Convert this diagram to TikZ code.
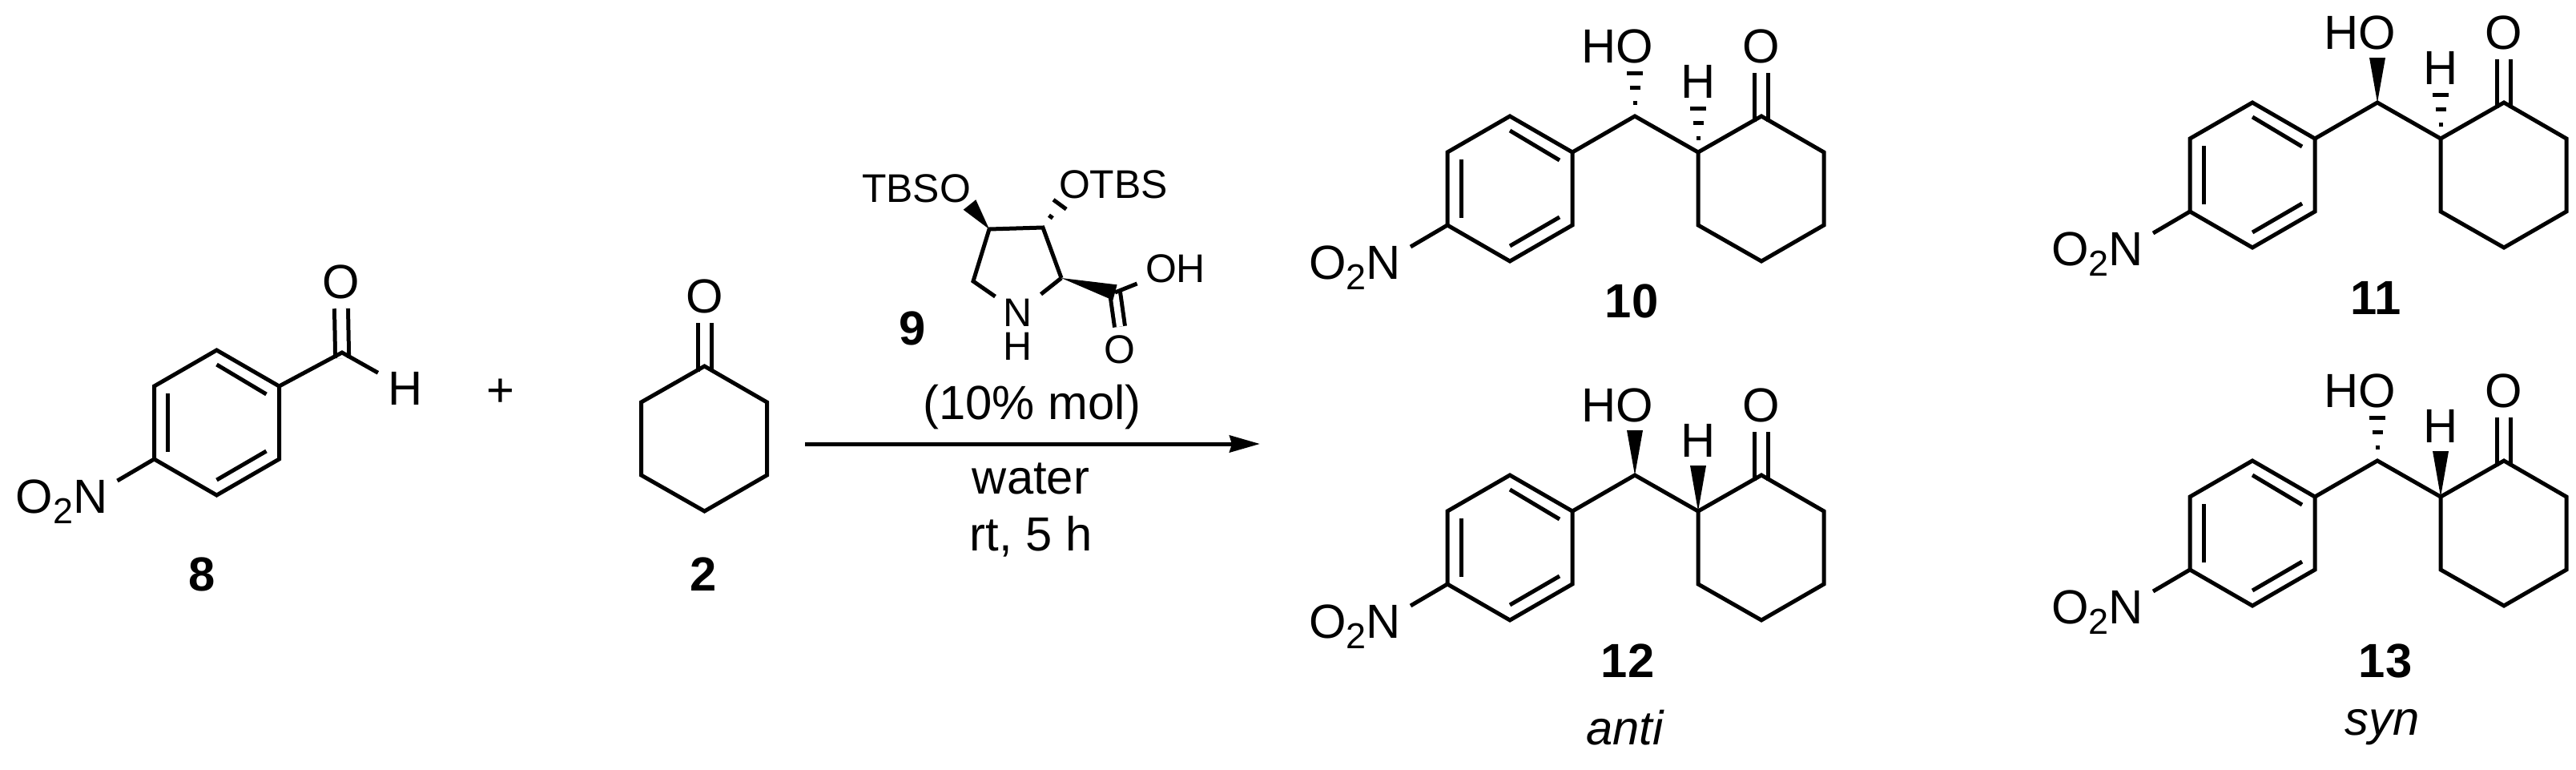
\documentclass[tikz,border=0pt]{standalone}
\usepackage{fontspec}
\setmainfont{Liberation Sans}
\usepackage{tikz}
\usetikzlibrary{calc,arrows.meta}
\pgfdeclarelayer{bg}
\pgfsetlayers{bg,main}
\tikzset{
    every path/.style={line width=.05cm},
    every node/.style={anchor=base, inner sep=.1cm, font=\fontsize{17}{17}\selectfont},
    catnode/.style={inner sep=.08cm, font=\fontsize{14.2}{14.2}\selectfont},
    dblbond/.style={double, double distance=.12cm, line width=.05cm, shorten <=-.07cm},
    wedgebond/.style={fill, to path={(\tikztostart) -- ($(\tikztotarget)!.1cm!90:(\tikztostart)$) -- ($(\tikztotarget)!.1cm!-90:(\tikztostart)$) -- cycle}},
    hashbond/.style={draw, to path={
        ($(\tikztostart)!.30!(\tikztotarget)!.025cm!90:(\tikztotarget)$) -- ($(\tikztostart)!.30!(\tikztotarget)!.025cm!-90:(\tikztotarget)$)
        ($(\tikztostart)!.64!(\tikztotarget)!.065cm!90:(\tikztotarget)$) -- ($(\tikztostart)!.64!(\tikztotarget)!.065cm!-90:(\tikztotarget)$)
        ($(\tikztostart)!.96!(\tikztotarget)!.1cm!90:(\tikztotarget)$) -- ($(\tikztostart)!.96!(\tikztotarget)!.1cm!-90:(\tikztotarget)$)}},
    shorthash/.style={draw, to path={
        ($(\tikztostart)!.45!(\tikztotarget)!.03cm!90:(\tikztotarget)$) -- ($(\tikztostart)!.45!(\tikztotarget)!.03cm!-90:(\tikztotarget)$)
        ($(\tikztostart)!.96!(\tikztotarget)!.1cm!90:(\tikztotarget)$) -- ($(\tikztostart)!.96!(\tikztotarget)!.1cm!-90:(\tikztotarget)$)}}
}
\newcommand{\nitro}{O\raisebox{-.13cm}{\fontsize{12.8}{12.8}\selectfont 2}N}
\newcommand{\arene}[2]{
    \begin{scope}[shift={(#2)}]
        \coordinate (#1r0) at (0.00cm, 0.00cm);
        \coordinate (#1r1) at (0.78cm, -0.45cm);
        \coordinate (#1r2) at (0.78cm, -1.36cm);
        \coordinate (#1r3) at (0.00cm, -1.81cm);
        \coordinate (#1r4) at (-0.78cm, -1.36cm);
        \coordinate (#1r5) at (-0.78cm, -0.45cm);
        \coordinate (#1i0) at (0.00cm, -0.18cm);
        \coordinate (#1i1) at (0.62cm, -0.55cm);
        \coordinate (#1i2) at (0.00cm, -1.62cm);
        \coordinate (#1i3) at (0.62cm, -1.26cm);
        \coordinate (#1i4) at (-0.61cm, -0.54cm);
        \coordinate (#1i5) at (-0.61cm, -1.27cm);
        \coordinate (#1e) at (-1.24cm, -1.63cm);
        \node (#1n) at (-1.935cm, -2.03cm) {\nitro};
        \draw (#1r0) -- (#1r1) -- (#1r2) -- (#1r3) -- (#1r4) -- (#1r5) -- cycle;
        \draw (#1i0) -- (#1i1);
        \draw (#1i2) -- (#1i3);
        \draw (#1i4) -- (#1i5);
        \draw (#1r4) -- (#1e);
    \end{scope}
}
\newcommand{\ketone}[2]{
    \begin{scope}[shift={(#2)}]
        \coordinate (#1k0) at (0.00cm, 0.00cm);
        \coordinate (#1k1) at (0.78cm, -0.45cm);
        \coordinate (#1k2) at (0.78cm, -1.36cm);
        \coordinate (#1k3) at (0.00cm, -1.81cm);
        \coordinate (#1k4) at (-0.79cm, -1.36cm);
        \coordinate (#1k5) at (-0.79cm, -0.45cm);
        \node (#1o) at (0.00cm, 0.67cm) {O};
        \draw (#1k0) -- (#1k1) -- (#1k2) -- (#1k3) -- (#1k4) -- (#1k5) -- cycle;
        \begin{pgfonlayer}{bg}
                \draw [dblbond] (#1k0) -- (#1o.south);
        \end{pgfonlayer}
    \end{scope}
}
\newcommand{\adduct}[4]{
    \begin{scope}[shift={(#2)}]
        \coordinate (#1c) at (0.00cm, 0.00cm);
        \arene{#1}{-1.56cm, 0cm}
        \ketone{#1}{1.58cm, 0cm}
        \coordinate (#1w0) at (0.00cm, 0.56cm);
        \coordinate (#1w1) at (0.79cm, 0.12cm);
        \node (#1oh) at (-0.215cm, 0.67cm) {HO};
        \node (#1h) at (0.79cm, 0.23cm) {H};
        \draw (#1r1) -- (#1c) -- (#1k5);
        \path [#3] (#1c) to (#1w0);
        \path [#4] (#1k5) to (#1w1);
    \end{scope}
}

\begin{document}
\begin{tikzpicture}
        \useasboundingbox (0,0) rectangle (32.16,9.6);
        \arene{a}{2.705cm, 5.23cm}
        \coordinate (ac) at (4.27cm, 5.20cm);
        \node (ao) at (4.26cm, 5.88cm) {O};
        \node (ah) at (5.06cm, 4.55cm) {H};
        \node (a8) at (2.52cm, 2.23cm) {\textbf{8}};
        \draw (ar1) -- (ac) -- (ah);
        \begin{pgfonlayer}{bg}
                \draw [dblbond] (ac) -- (ao.south);
        \end{pgfonlayer}
        \node [anchor=center] (plus) at (6.25cm, 4.70cm) {+};
        \ketone{b}{8.795cm, 5.03cm}
        \node (b2) at (8.78cm, 2.23cm) {\textbf{2}};

        \coordinate (c4) at (12.35cm, 6.74cm);
        \coordinate (c3) at (13.02cm, 6.76cm);
        \coordinate (c2) at (13.25cm, 6.13cm);
        \coordinate (c5) at (12.15cm, 6.09cm);
        \coordinate (c6) at (13.92cm, 5.95cm);
        \coordinate (w4) at (12.105cm, 7.045cm);
        \coordinate (w3) at (13.24cm, 7.06cm);
        \node [catnode] (tbso) at (11.44cm, 7.08cm) {TBSO};
        \node [catnode] (otbs) at (13.90cm, 7.13cm) {OTBS};
        \node [catnode] (nn) at (12.71cm, 5.53cm) {N};
        \node [catnode] (nh) at (12.71cm, 5.11cm) {H};
        \node [catnode] (oh) at (14.675cm, 6.08cm) {OH};
        \node [catnode] (oc) at (13.98cm, 5.07cm) {O};
        \node (c9) at (11.39cm, 5.30cm) {\textbf{9}};
        \node (mol) at (12.885cm, 4.37cm) {(10\% mol)};
        \draw (c2) -- (c3) -- (c4) -- (c5) -- (nn) -- (c2);
        \draw (c6) -- (oh);
        \path [wedgebond] (c4) to (w4);
        \path [shorthash] (c3) to (w3);
        \path [wedgebond] (c2) to (c6);
        \begin{pgfonlayer}{bg}
                \draw [dblbond, double distance=.08cm, shorten <=0cm] (c6) -- (oc.north);
        \end{pgfonlayer}

        \coordinate (arr0) at (10.05cm, 4.06cm);
        \coordinate (arr1) at (15.73cm, 4.06cm);
        \draw [-{Stealth[length=.38cm, width=.21cm, inset=.03cm]}] (arr0) -- (arr1);
        \node (water) at (12.87cm, 3.44cm) {water};
        \node (time) at (12.87cm, 2.73cm) {rt, 5 h};

        \adduct{p}{20.41cm, 8.15cm}{hashbond}{hashbond}
        \adduct{q}{29.68cm, 8.32cm}{wedgebond}{hashbond}
        \adduct{s}{20.41cm, 3.67cm}{wedgebond}{wedgebond}
        \adduct{t}{29.68cm, 3.85cm}{hashbond}{wedgebond}
        \node (p10) at (20.37cm, 5.64cm) {\textbf{10}};
        \node (q11) at (29.66cm, 5.68cm) {\textbf{11}};
        \node (s12) at (20.32cm, 1.15cm) {\textbf{12}};
        \node (t13) at (29.78cm, 1.15cm) {\textbf{13}};
        \node (anti) at (20.29cm, 0.31cm) {\textit{anti}};
        \node (syn) at (29.74cm, 0.43cm) {\textit{syn}};
\end{tikzpicture}
\end{document}
